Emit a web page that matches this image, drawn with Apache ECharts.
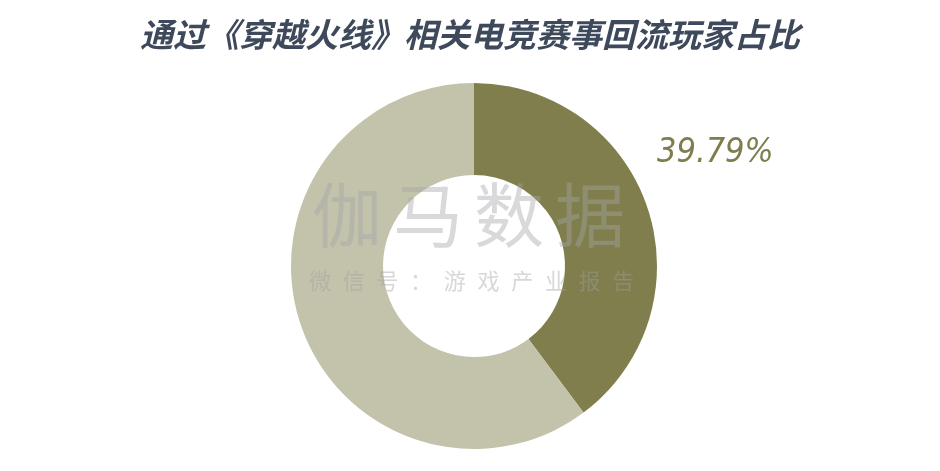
<!DOCTYPE html>
<html><head><meta charset="utf-8">
<script src="https://cdn.jsdelivr.net/npm/echarts@6/dist/echarts.min.js"></script>
<style>html,body{margin:0;padding:0;background:#fff}#c{width:940px;height:471px}</style>
</head><body><div id="c"></div>
<script>
const titleText = '通过《穿越火线》相关电竞赛事回流玩家占比';
const categories = ['回流玩家', '其他'];
const values = [39.79, 60.21];
const colors = ['#7f7e4c', '#c3c2aa'];
const wm1 = ['伽', '马', '数', '据'];
const wm2 = ['微', '信', '号', '：', '游', '戏', '产', '业', '报', '告'];

const chart = echarts.init(document.getElementById('c'));
const graphics = [];
wm1.forEach((ch, i) => graphics.push({
  type: 'text', z: 100, left: 312 + i * 81, top: 180,
  style: { text: ch, font: '70px "Noto Sans CJK SC"', fill: 'rgba(165,165,170,0.42)' }
}));
wm2.forEach((ch, i) => graphics.push({
  type: 'text', z: 100, left: 309 + i * 33.7, top: 270,
  style: { text: ch, font: '22px "Noto Sans CJK SC"', fill: 'rgba(160,160,165,0.42)' }
}));

chart.setOption({
  backgroundColor: '#fff',
  title: {
    text: titleText, left: 465, textAlign: 'center', top: 13,
    textStyle: { fontSize: 33, fontWeight: 'bold', fontStyle: 'italic',
      fontFamily: '"Noto Sans CJK SC"', color: '#3e4a5b' }
  },
  graphic: graphics,
  series: [{
    type: 'pie',
    center: [474, 266],
    radius: [91, 183],
    startAngle: 90,
    clockwise: true,
    silent: true,
    data: categories.map((c, i) => ({
      name: c, value: values[i], itemStyle: { color: colors[i] },
      label: i === 0 ? {
        show: true, position: 'outside',
        formatter: (p) => p.value.toFixed(2) + '%',
        fontSize: 34, fontStyle: 'italic',
        fontFamily: '"DejaVu Sans Condensed", "Liberation Sans Narrow", sans-serif',
        color: '#7e7d4e'
      } : { show: false },
      labelLine: { show: false }
    })),
    labelLayout: (p) => p.dataIndex === 0 ? { x: 657, y: 153, align: 'left', verticalAlign: 'middle' } : {}
  }]
});
</script></body></html>
